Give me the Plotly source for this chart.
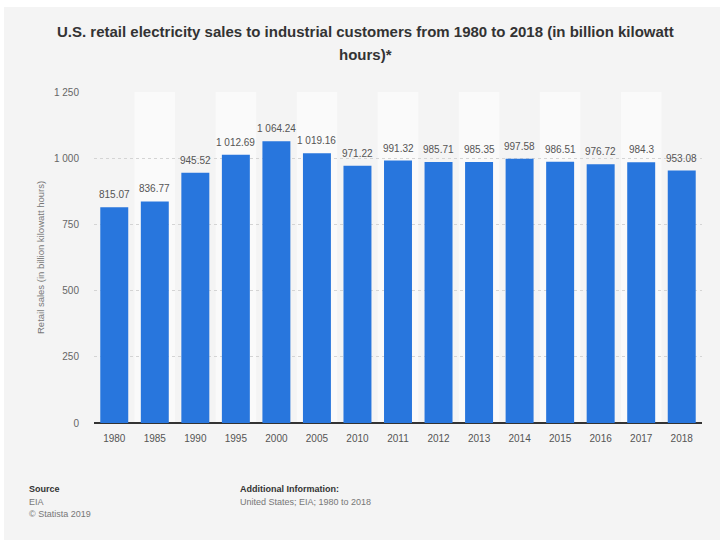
import plotly.graph_objects as go

# Industrial electricity sales, billion kWh
years = ["1980", "1985", "1990", "1995", "2000", "2005", "2010", "2011",
         "2012", "2013", "2014", "2015", "2016", "2017", "2018"]
sales = [815.07, 836.77, 945.52, 1012.69, 1064.24, 1019.16, 971.22, 991.32,
         985.71, 985.35, 997.58, 986.51, 976.72, 984.3, 953.08]

y_ticks = [0, 250, 500, 750, 1000, 1250]
y_tick_text = ["0", "250", "500", "750", "1 000", "1 250"]

title_lines = [
    "U.S. retail electricity sales to industrial customers from 1980 to 2018 (in billion kilowatt",
    "hours)*",
]
y_title = "Retail sales (in billion kilowatt hours)"


def fmt(v):
    s = f"{v:,.2f}".rstrip("0").rstrip(".")
    return s.replace(",", " ")


W, H = 723, 542
L, R, T, B = 94, 21, 92, 119
pw, ph = W - L - R, H - T - B


def px_x(x):
    return (x - L) / pw


def px_y(y):
    return (H - B - y) / ph


FONT = "Liberation Sans, Arial, sans-serif"
BLUE = "#2876dd"

fig = go.Figure()
fig.add_trace(go.Bar(
    x=years, y=sales,
    marker=dict(color=BLUE, line=dict(width=0)),
    hoverinfo="skip",
))

shapes = [
    # grey card behind the whole chart
    dict(type="rect", xref="paper", yref="paper",
         x0=px_x(4), x1=px_x(720), y0=px_y(540), y1=px_y(7),
         fillcolor="#f4f4f4", line=dict(width=0), layer="below"),
]
# lighter stripes behind every other category, under the dashed gridlines
for i, yr in enumerate(years):
    if i % 2 == 1:
        shapes.append(dict(type="rect", xref="x", yref="paper",
                           x0=i - 0.5, x1=i + 0.5, y0=0, y1=1,
                           fillcolor="#fafafa", line=dict(width=0),
                           layer="below"))

annotations = [
    dict(text=f"<b>{title_lines[0]}</b>", x=px_x(365), y=px_y(32),
         font=dict(family=FONT, size=15, color="#333333")),
    dict(text=f"<b>{title_lines[1]}</b>", x=px_x(365), y=px_y(55),
         font=dict(family=FONT, size=15, color="#333333")),
    dict(text="<b>Source</b>", x=px_x(27), y=px_y(489), xanchor="left",
         font=dict(family=FONT, size=9, color="#333333")),
    dict(text="EIA", x=px_x(27), y=px_y(502), xanchor="left",
         font=dict(family=FONT, size=9, color="#777777")),
    dict(text="© Statista 2019", x=px_x(27), y=px_y(514), xanchor="left",
         font=dict(family=FONT, size=9, color="#777777")),
    dict(text="<b>Additional Information:</b>", x=px_x(238), y=px_y(489),
         xanchor="left", font=dict(family=FONT, size=9, color="#333333")),
    dict(text="United States; EIA; 1980 to 2018", x=px_x(238), y=px_y(502),
         xanchor="left", font=dict(family=FONT, size=9, color="#777777")),
    dict(text=y_title, x=px_x(40), y=px_y(258), textangle=-90,
         font=dict(family=FONT, size=9.5, color="#777777")),
]
for a in annotations:
    a.update(xref="paper", yref="paper", showarrow=False)
    a.setdefault("xanchor", "center")
    a.setdefault("yanchor", "middle")

# value labels above each bar (category index on the x axis)
for i, v in enumerate(sales):
    annotations.append(dict(
        x=i, y=v, xref="x", yref="y", text=fmt(v), showarrow=False,
        xanchor="center", yanchor="bottom", yshift=5,
        font=dict(family=FONT, size=10, color="#555555"),
    ))

fig.update_layout(
    width=W, height=H,
    margin=dict(l=L, r=R, t=T, b=B, pad=0),
    paper_bgcolor="white",
    plot_bgcolor="rgba(0,0,0,0)",
    showlegend=False,
    bargap=0.31,
    shapes=shapes,
    annotations=annotations,
    font=dict(family=FONT),
    xaxis=dict(
        type="category", range=[-0.5, len(years) - 0.5],
        showgrid=False, showline=False, zeroline=False,
        ticks="outside", ticklen=6, tickcolor="rgba(0,0,0,0)",
        tickfont=dict(family=FONT, size=10, color="#555555"),
        fixedrange=True,
    ),
    yaxis=dict(
        range=[0, 1250], tickvals=y_ticks, ticktext=y_tick_text,
        showgrid=True, gridcolor="#d4d4d4", gridwidth=1, griddash="3px,3px",
        zeroline=True, zerolinecolor="#333333", zerolinewidth=2,
        showline=False,
        ticks="outside", ticklen=12, tickcolor="rgba(0,0,0,0)",
        tickfont=dict(family=FONT, size=10, color="#666666"),
        fixedrange=True,
    ),
)
for s in fig.layout.shapes[1:]:
    s.layer = "between"

fig.write_html("out.html")
